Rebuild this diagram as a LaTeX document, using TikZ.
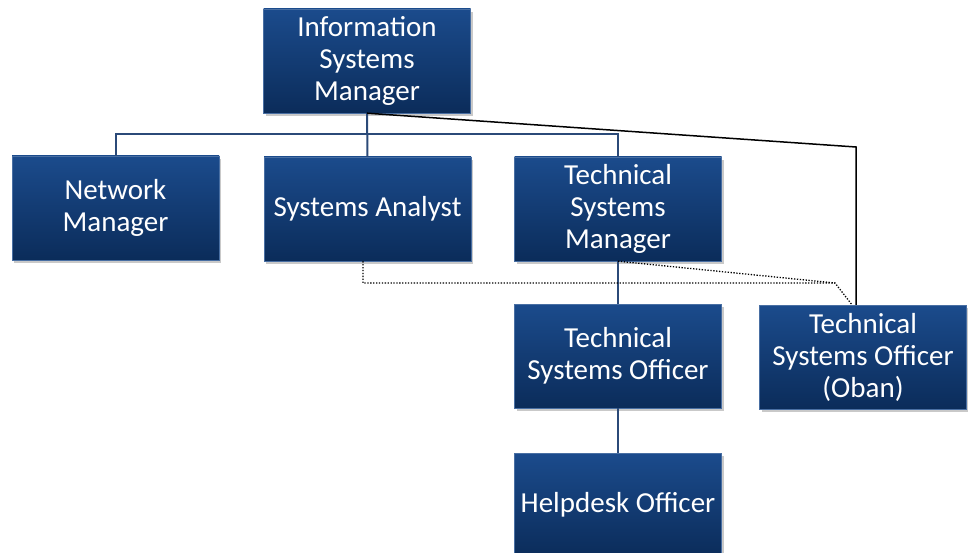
\documentclass[tikz,border=0pt]{standalone}
\usepackage{fontspec}
\setmainfont{Carlito}
\usetikzlibrary{shadows}
\definecolor{boxtop}{HTML}{1B4B8C}
\definecolor{boxbot}{HTML}{0B2C5A}
\definecolor{linkblue}{HTML}{2B4A78}
\begin{document}
\begin{tikzpicture}[x=1pt,y=-1pt,
  box/.style={rectangle, minimum width=207pt, minimum height=104pt, inner sep=2pt,
    top color=boxtop, bottom color=boxbot, draw=boxtop!80!white, line width=0.4pt,
    text=white, align=center, font=\fontsize{29}{32}\selectfont,
    drop shadow={shadow xshift=2pt, shadow yshift=-3pt, opacity=0.3, fill=black!70}},
  link/.style={draw=linkblue, line width=2pt},
  blk/.style={draw=black, line width=1.5pt},
  dots/.style={draw=black, line width=1.3pt, dash pattern=on 1.3pt off 1.6pt}]
\useasboundingbox (0,0) rectangle (968,553);
\clip (0,0) rectangle (968,553);
\node[box] (ism) at (367,61) {Information\\Systems\\Manager};
\node[box] (nm) at (115.5,208) {Network\\Manager};
\node[box] (sa) at (367.5,209) {Systems Analyst};
\node[box] (tsm) at (618,209) {Technical\\Systems\\Manager};
\node[box] (tso) at (618,356) {Technical\\Systems Officer};
\node[box] (oban) at (863,357) {Technical\\Systems Officer\\(Oban)};
\node[box] (hd) at (618,505) {Helpdesk Officer};
\coordinate (busL) at (115.5,134);
\coordinate (busR) at (618,134);
\coordinate (k) at (856,147);
\coordinate (d1) at (363,283);
\coordinate (d2) at (835,283);
\coordinate (d3) at (852,305);
\draw[link] (ism.south) -- (sa.north);
\draw[link] (nm.north) -- (busL) -- (busR) -- (tsm.north);
\draw[link] (tsm.south) -- (tso.north);
\draw[link] (tso.south) -- (hd.north);
\draw[blk] (ism.south) -- (k) -- (k |- oban.north);
\draw[dots] (sa.south -| d1) -- (d1) -- (d2) -- (d3 |- oban.north);
\draw[dots] (tsm.south) -- (d2);
\end{tikzpicture}
\end{document}
